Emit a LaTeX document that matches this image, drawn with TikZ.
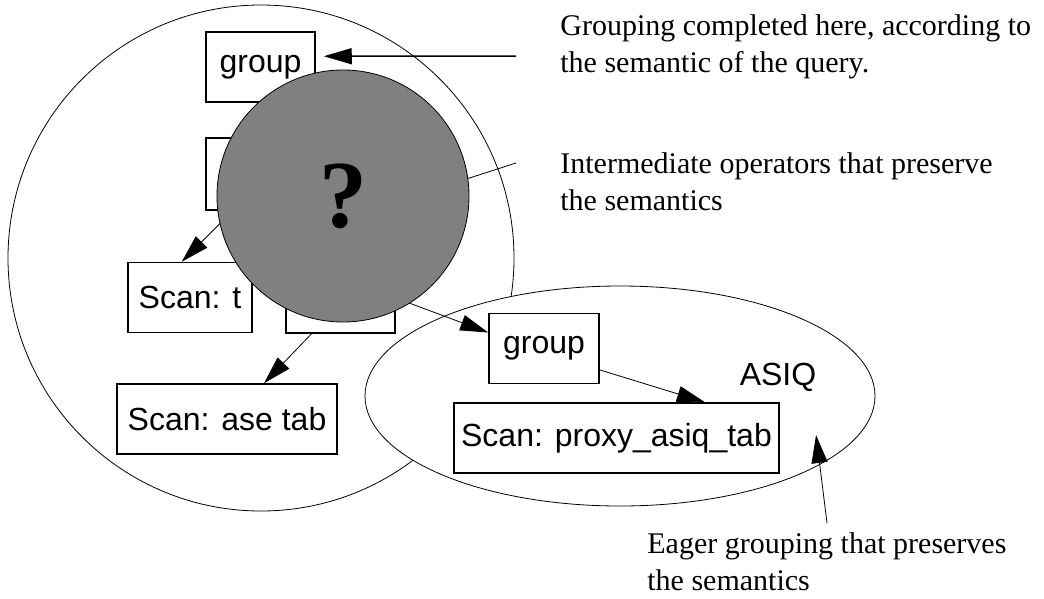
\documentclass[tikz,border=0pt]{standalone}
\usepackage{fontspec}
\setmainfont{Liberation Serif}
\setsansfont{Liberation Sans}
\usetikzlibrary{shapes.geometric,arrows.meta}

\tikzset{
  opbox/.style={rectangle, draw, line width=1.5pt, fill=white, inner sep=0pt, minimum height=70pt, font=\sffamily\fontsize{32}{38}\selectfont},
  note/.style={anchor=base west, align=left, inner sep=0pt, font=\fontsize{30}{37}\selectfont},
  tip/.style={-{Triangle[length=28pt,width=16pt]}},
}

\begin{document}
\begin{tikzpicture}[x=1pt, y=-1pt, line width=0.8pt]
        \useasboundingbox (0,0) rectangle (1044,598);
        % the two regions
        \node at (261,258) (outer)[circle, draw, minimum size=506pt, inner sep=0pt] {};
        \node at (620,396) (asiq)[ellipse, draw, fill=white, minimum width=510pt, minimum height=220pt, inner sep=0pt] {};
        \node at (778,377) (asiqlbl)[font=\sffamily\fontsize{32}{38}\selectfont] {ASIQ};
        % operators
        \node at (260.5,67) (grp)[opbox, minimum width=109pt] {group};
        \node at (260.5,174) (opA)[opbox, minimum width=109pt, minimum height=72pt] {};
        \node at (190,297.5) (scant)[opbox, minimum width=124pt] {Scan: t};
        \node at (340.5,298) (opB)[opbox, minimum width=109pt] {};
        \node at (227,419) (scanase)[opbox, minimum width=220pt] {Scan: ase tab};
        \node at (544,348.5) (grpasiq)[opbox, minimum width=110pt] {group};
        \node at (616.5,438) (scanproxy)[opbox, minimum width=325pt] {Scan: proxy\_asiq\_tab};
        \draw [tip] (opA.-127) -- (scant.103);
        \draw [tip] (opB.-129) -- (scanase.44);
        \draw [tip] (opB.east) -- (grpasiq.164);
        \draw [tip] (grpasiq.-21) -- (scanproxy.22.5);
        % unknown part
        \node at (343,196) (unknown)[circle, draw, fill=gray, minimum size=252pt, inner sep=0pt, font=\bfseries\fontsize{96}{96}\selectfont] {?};
        % notes
        \node at (560,72) (notegrp)[note] {Grouping completed here, according to\\the semantic of the query.};
        \node at (560,210) (notemid)[note] {Intermediate operators that preserve\\the semantics};
        \node at (647,590) (noteeager)[note] {Eager grouping that preserves\\the semantics};
        \coordinate (c1) at (516,56);
        \coordinate (c2) at (516,163);
        \coordinate (c3) at (827,523);
        \draw [tip, line width=1.5pt, shorten >=8pt] (c1) -- (grp.11);
        \draw (c2) -- (unknown.8.6);
        \draw [tip, shorten >=-30pt] (c3) -- (asiq.-19.5);
\end{tikzpicture}
\end{document}
